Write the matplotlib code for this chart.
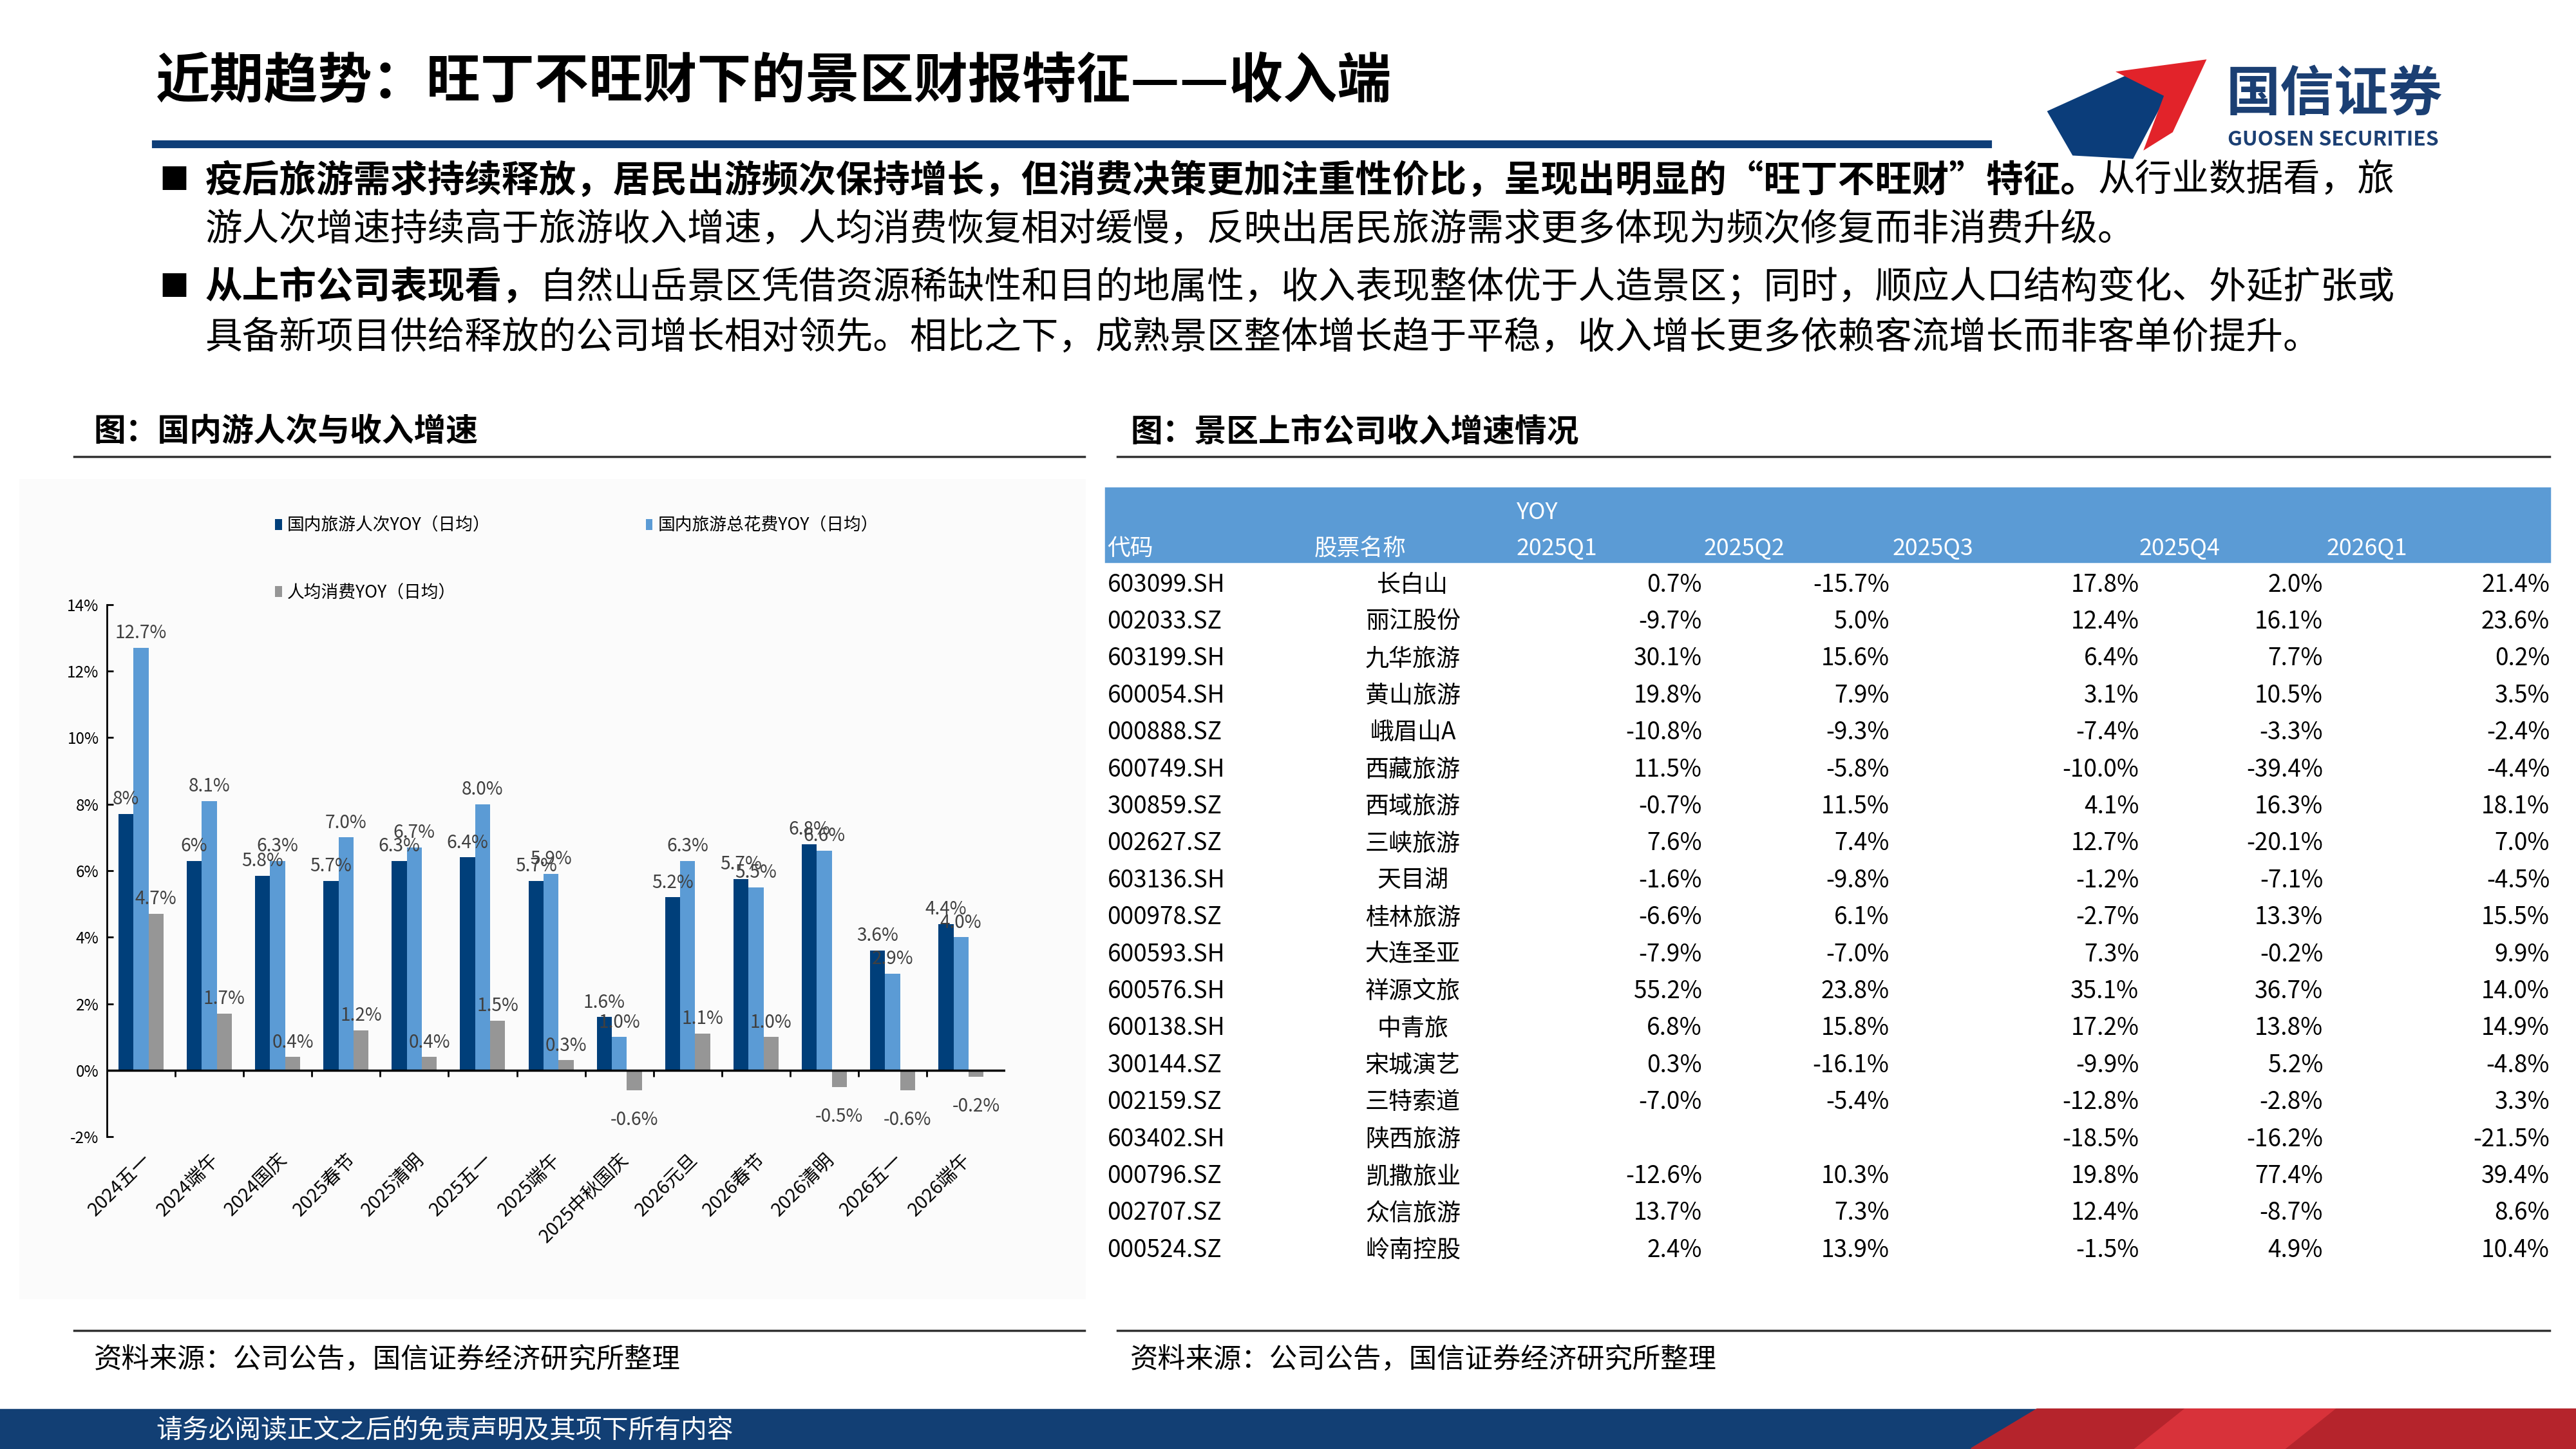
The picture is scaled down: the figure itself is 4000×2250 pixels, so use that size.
import numpy as np
import matplotlib.pyplot as plt
from matplotlib.patches import Rectangle, Polygon

plt.rcParams['font.family'] = ['Noto Sans CJK SC', 'DejaVu Sans']

# ---- 图表数据 ----
holidays = ["2024五一", "2024端午", "2024国庆", "2025春节", "2025清明", "2025五一", "2025端午",
            "2025中秋国庆", "2026元旦", "2026春节", "2026清明", "2026五一", "2026端午"]
trips_yoy = [7.7, 6.3, 5.85, 5.7, 6.3, 6.4, 5.7, 1.6, 5.2, 5.75, 6.8, 3.6, 4.4]
trips_lbl = ["8%", "6%", "5.8%", "5.7%", "6.3%", "6.4%", "5.7%", "1.6%", "5.2%", "5.7%", "6.8%", "3.6%", "4.4%"]
spend_yoy = [12.7, 8.1, 6.3, 7.0, 6.7, 8.0, 5.9, 1.0, 6.3, 5.5, 6.6, 2.9, 4.0]
percap_yoy = [4.7, 1.7, 0.4, 1.2, 0.4, 1.5, 0.3, -0.6, 1.1, 1.0, -0.5, -0.6, -0.2]

# ---- 表格数据 ----
codes = ["603099.SH", "002033.SZ", "603199.SH", "600054.SH", "000888.SZ", "600749.SH", "300859.SZ",
         "002627.SZ", "603136.SH", "000978.SZ", "600593.SH", "600576.SH", "600138.SH", "300144.SZ",
         "002159.SZ", "603402.SH", "000796.SZ", "002707.SZ", "000524.SZ"]
names = ["长白山", "丽江股份", "九华旅游", "黄山旅游", "峨眉山A", "西藏旅游", "西域旅游", "三峡旅游",
         "天目湖", "桂林旅游", "大连圣亚", "祥源文旅", "中青旅", "宋城演艺", "三特索道", "陕西旅游",
         "凯撒旅业", "众信旅游", "岭南控股"]
q25_1 = [0.7, -9.7, 30.1, 19.8, -10.8, 11.5, -0.7, 7.6, -1.6, -6.6, -7.9, 55.2, 6.8, 0.3, -7.0, None, -12.6, 13.7, 2.4]
q25_2 = [-15.7, 5.0, 15.6, 7.9, -9.3, -5.8, 11.5, 7.4, -9.8, 6.1, -7.0, 23.8, 15.8, -16.1, -5.4, None, 10.3, 7.3, 13.9]
q25_3 = [17.8, 12.4, 6.4, 3.1, -7.4, -10.0, 4.1, 12.7, -1.2, -2.7, 7.3, 35.1, 17.2, -9.9, -12.8, -18.5, 19.8, 12.4, -1.5]
q25_4 = [2.0, 16.1, 7.7, 10.5, -3.3, -39.4, 16.3, -20.1, -7.1, 13.3, -0.2, 36.7, 13.8, 5.2, -2.8, -16.2, 77.4, -8.7, 4.9]
q26_1 = [21.4, 23.6, 0.2, 3.5, -2.4, -4.4, 18.1, 7.0, -4.5, 15.5, 9.9, 14.0, 14.9, -4.8, 3.3, -21.5, 39.4, 8.6, 10.4]

W, H = 1568, 882
def fx(x): return x / W
def fy(y): return 1 - y / H
def pt(px): return px * 0.7347

DARK = "#003f7a"
MID = "#5b9bd5"
GRAY = "#969696"

fig = plt.figure(figsize=(16, 9), dpi=250)
fig.patch.set_facecolor("white")

# 标题
fig.text(fx(95), fy(50), "近期趋势：旺丁不旺财下的景区财报特征——收入端", fontsize=pt(33),
         fontweight="bold", va="center", color="black")
fig.add_artist(plt.Line2D([fx(95), fx(1210)], [fy(88), fy(88)], color="#0e3e78", lw=3.5))

# logo
fig.add_artist(Polygon([(fx(1247), fy(68)), (fx(1300), fy(44)), (fx(1318), fy(58)),
                        (fx(1298), fy(96)), (fx(1262), fy(94))], closed=True, color="#0b3d7a"))
fig.add_artist(Polygon([(fx(1290), fy(44)), (fx(1342), fy(37)), (fx(1322), fy(80)),
                        (fx(1306), fy(90)), (fx(1318), fy(58))], closed=True, color="#e2232a"))
fig.text(fx(1355), fy(58), "国信证券", fontsize=pt(33), fontweight="bold", va="center", color="#1b3f73")
fig.text(fx(1356), fy(85), "GUOSEN SECURITIES", fontsize=pt(12.5), fontweight="bold", va="center", color="#1b3f73")

# 要点文字
renderer = fig.canvas.get_renderer()
def mixed(x, y, parts, size):
    for txt, bold in parts:
        t = fig.text(fx(x), fy(y), txt, fontsize=size, fontweight="bold" if bold else "normal",
                     va="center", color="black")
        bb = t.get_window_extent(renderer=renderer)
        x += bb.width / fig.dpi / 16 * W

bs = pt(22.6)
for y in (110, 175):
    fig.text(fx(97), fy(y), "■", fontsize=pt(18), va="center", color="black")
mixed(125, 110, [("疫后旅游需求持续释放，居民出游频次保持增长，但消费决策更加注重性价比，呈现出明显的“旺丁不旺财”特征。", True),
                 ("从行业数据看，旅", False)], bs)
mixed(125, 140, [("游人次增速持续高于旅游收入增速，人均消费恢复相对缓慢，反映出居民旅游需求更多体现为频次修复而非消费升级。", False)], bs)
mixed(125, 175, [("从上市公司表现看，", True),
                 ("自然山岳景区凭借资源稀缺性和目的地属性，收入表现整体优于人造景区；同时，顺应人口结构变化、外延扩张或", False)], bs)
mixed(125, 206, [("具备新项目供给释放的公司增长相对领先。相比之下，成熟景区整体增长趋于平稳，收入增长更多依赖客流增长而非客单价提升。", False)], bs)

# 小标题与分隔线
fig.text(fx(57), fy(263), "图：国内游人次与收入增速", fontsize=pt(19.5), fontweight="bold", va="center")
fig.text(fx(688), fy(263), "图：景区上市公司收入增速情况", fontsize=pt(19.5), fontweight="bold", va="center")
for x0, x1 in ((45, 660), (680, 1552)):
    fig.add_artist(plt.Line2D([fx(x0), fx(x1)], [fy(278), fy(278)], color="#333333", lw=1.0))
    fig.add_artist(plt.Line2D([fx(x0), fx(x1)], [fy(810), fy(810)], color="#333333", lw=1.0))
fig.text(fx(57), fy(828), "资料来源：公司公告，国信证券经济研究所整理", fontsize=pt(17), va="center")
fig.text(fx(688), fy(828), "资料来源：公司公告，国信证券经济研究所整理", fontsize=pt(17), va="center")

# 左图背景
fig.add_artist(Rectangle((fx(12), fy(790)), fx(648), (790 - 292) / H, color="#fbfbfb", zorder=-1))

# 柱状图
ax = fig.add_axes([fx(65), fy(692), fx(612 - 65), (692 - 368) / H])
ax.set_facecolor("none")
x = np.arange(len(holidays))
bw = 0.22
b1 = ax.bar(x - bw, trips_yoy, bw, color=DARK, label="国内旅游人次YOY（日均）")
b2 = ax.bar(x, spend_yoy, bw, color=MID, label="国内旅游总花费YOY（日均）")
b3 = ax.bar(x + bw, percap_yoy, bw, color=GRAY, label="人均消费YOY（日均）")
lblc = "#404040"
ls = pt(11)
for i in range(len(x)):
    ax.text(x[i] - bw, trips_yoy[i] + 0.15, trips_lbl[i], ha="center", va="bottom", fontsize=ls, color=lblc)
    ax.text(x[i], spend_yoy[i] + 0.15, f"{spend_yoy[i]:.1f}%", ha="center", va="bottom", fontsize=ls, color=lblc)
    v = percap_yoy[i]
    if v >= 0:
        ax.text(x[i] + bw, v + 0.15, f"{v:.1f}%", ha="center", va="bottom", fontsize=ls, color=lblc)
    else:
        ax.text(x[i] + bw, v - 0.6, f"{v:.1f}%", ha="center", va="top", fontsize=ls, color=lblc)
ax.set_ylim(-2, 14)
ax.set_xlim(-0.5, len(x) - 0.35)
ax.set_yticks(range(-2, 15, 2))
ax.set_yticklabels([f"{v}%" for v in range(-2, 15, 2)], fontsize=pt(9.5))
ax.set_xticks(x)
ax.set_xticklabels(holidays, rotation=45, ha="right", rotation_mode="anchor", fontsize=pt(11.5))
ax.tick_params(axis="x", length=0, pad=6)
ax.tick_params(axis="y", length=3, direction="in")
for s in ("top", "right", "bottom"):
    ax.spines[s].set_visible(False)
ax.axhline(0, color="black", lw=1.0)
ax.vlines(x[:-1] + 0.5, -0.2, 0, color="black", lw=0.8)
h = [b1, b2, b3]
fig.legend(h[:2], [b.get_label() for b in h[:2]], loc="center left", ncol=2,
           bbox_to_anchor=(fx(158), fy(320)), frameon=False, fontsize=pt(10.5),
           handlelength=0.4, handleheight=0.6, handletextpad=0.3, columnspacing=9)
fig.legend([b3], [b3.get_label()], loc="center left", bbox_to_anchor=(fx(158), fy(361)),
           frameon=False, fontsize=pt(10.5), handlelength=0.4, handleheight=0.6, handletextpad=0.3)

# 表格
fig.add_artist(Rectangle((fx(673), fy(342)), fx(1552 - 673), (342 - 297) / H, color=MID))
hs = pt(14)
fig.text(fx(923), fy(312), "YOY", color="white", fontsize=hs, va="center")
for hx, ht in ((674, "代码"), (800, "股票名称"), (923, "2025Q1"), (1037, "2025Q2"),
               (1152, "2025Q3"), (1302, "2025Q4"), (1416, "2026Q1")):
    fig.text(fx(hx), fy(334), ht, color="white", fontsize=hs, va="center")
ts = pt(14.5)
cols = [(q25_1, 1036), (q25_2, 1150), (q25_3, 1302), (q25_4, 1414), (q26_1, 1552)]
for i in range(len(codes)):
    y = 356 + i * 22.5
    fig.text(fx(674), fy(y), codes[i], fontsize=ts, va="center")
    fig.text(fx(860), fy(y), names[i], fontsize=ts, va="center", ha="center")
    for vals, cx in cols:
        if vals[i] is not None:
            fig.text(fx(cx), fy(y), f"{vals[i]:.1f}%", fontsize=ts, va="center", ha="right")

# 页脚
fig.add_artist(Rectangle((0, 0), 1, 24 / H, color="#123f74"))
fig.add_artist(Polygon([(fx(1200), 0), (fx(1240), 24 / H), (1, 24 / H), (1, 0)], closed=True, color="#b5242c"))
fig.add_artist(Polygon([(fx(1300), 0), (fx(1330), 24 / H), (fx(1420), 24 / H), (fx(1390), 0)], closed=True, color="#d8323a"))
fig.text(fx(95), fy(871), "请务必阅读正文之后的免责声明及其项下所有内容", color="white", fontsize=pt(16), va="center")

fig.savefig("out.png", dpi=250)
